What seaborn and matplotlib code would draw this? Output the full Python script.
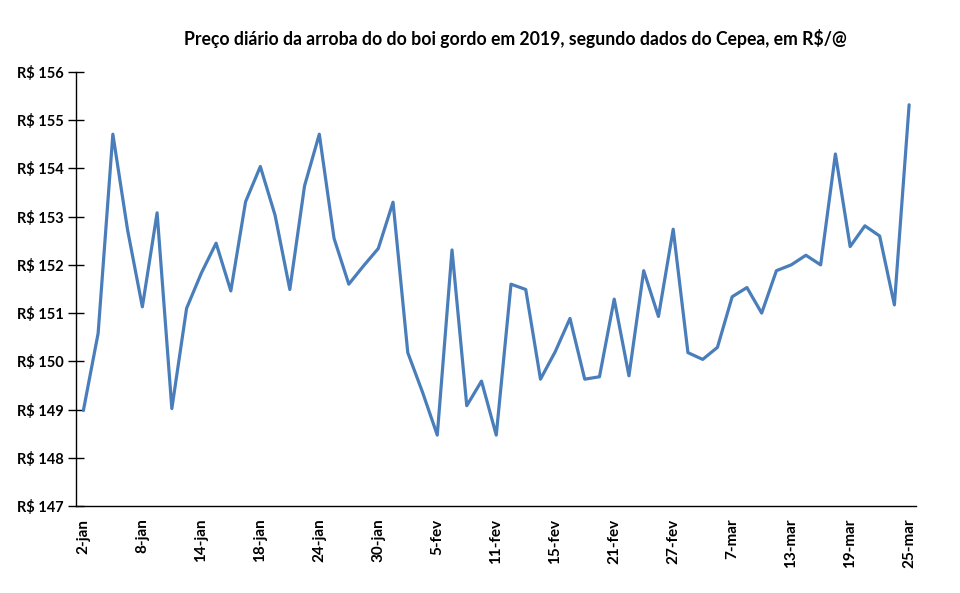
import matplotlib
matplotlib.use("Agg")
import matplotlib.pyplot as plt
import seaborn as sns
import pandas as pd
import numpy as np

dates = ["2-jan","3-jan","4-jan","7-jan","8-jan","9-jan","10-jan","11-jan","14-jan","15-jan",
         "16-jan","17-jan","18-jan","21-jan","22-jan","23-jan","24-jan","25-jan","28-jan","29-jan",
         "30-jan","31-jan","1-fev","4-fev","5-fev","6-fev","7-fev","8-fev","11-fev","12-fev",
         "13-fev","14-fev","15-fev","18-fev","19-fev","20-fev","21-fev","22-fev","25-fev","26-fev",
         "27-fev","28-fev","1-mar","6-mar","7-mar","8-mar","11-mar","12-mar","13-mar","14-mar",
         "15-mar","18-mar","19-mar","20-mar","21-mar","22-mar","25-mar"]
precos = [148.98, 150.58, 154.71, 152.72, 151.13, 153.08, 149.02, 151.10, 151.83, 152.45,
          151.46, 153.31, 154.04, 153.03, 151.49, 153.64, 154.71, 152.55, 151.60, 151.98,
          152.34, 153.30, 150.18, 149.36, 148.47, 152.31, 149.08, 149.59, 148.47, 151.60,
          151.49, 149.63, 150.20, 150.89, 149.63, 149.68, 151.29, 149.70, 151.88, 150.93,
          152.74, 150.18, 150.04, 150.29, 151.34, 151.53, 151.00, 151.88, 152.00, 152.20,
          152.00, 154.30, 152.38, 152.81, 152.60, 151.17, 155.32]
y_ticks = [147, 148, 149, 150, 151, 152, 153, 154, 155, 156]
titulo = "Preço diário da arroba do do boi gordo em 2019, segundo dados do Cepea, em R$/@"

df = pd.DataFrame({"idx": np.arange(len(precos)), "preco": precos, "data": dates})

sns.set_theme(style="white")
plt.rcParams["font.family"] = ["Lato", "DejaVu Sans"]

fig = plt.figure(figsize=(9.6, 5.93), dpi=100)
ax = fig.add_axes([76/960, 1-506/593, (916.5-76)/960, (506-72)/593])

sns.lineplot(data=df, x="idx", y="preco", ax=ax, color="#4A7EBB", linewidth=2.3)

ax.set_xlim(-0.5, len(precos) - 0.5)
ax.set_ylim(147, 156)
ax.set_yticks(y_ticks)
ax.set_yticklabels([f"R$ {v}" for v in y_ticks], fontweight="bold", fontsize=10.5)
tick_idx = list(range(0, len(precos), 4))
ax.set_xticks(tick_idx)
ax.set_xticklabels([dates[i] for i in tick_idx], rotation=90, fontweight="bold", fontsize=11)
ax.set_xlabel("")
ax.set_ylabel("")

for s in ["top", "right"]:
    ax.spines[s].set_visible(False)
for s in ["left", "bottom"]:
    ax.spines[s].set_color("black")
    ax.spines[s].set_linewidth(1.0)

ax.tick_params(axis="y", which="both", left=True, direction="inout", length=12, width=1,
               color="black", pad=3, labelcolor="black")
ax.tick_params(axis="x", which="both", bottom=False, length=0, pad=9, labelcolor="black")
ax.grid(False)

fig.text(515/960, 1-38/593, titulo, ha="center", va="center", fontsize=12.7, fontweight="bold", color="black")

fig.savefig("out.png", dpi=100, facecolor="white")
